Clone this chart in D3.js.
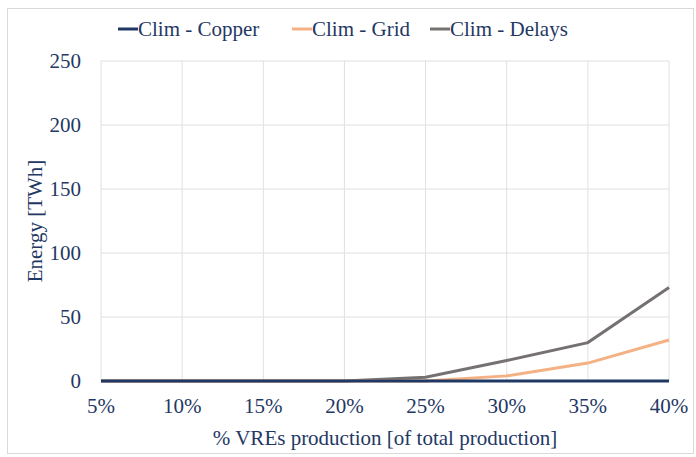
<!DOCTYPE html>
<html lang="en">
<head>
<meta charset="utf-8" />
<script src="https://cdn.jsdelivr.net/npm/d3@7"></script>
<style>
    body { margin: 0; background: #fff; }
</style>
</head>
<body>
<script>
    var categories = ["5%", "10%", "15%", "20%", "25%", "30%", "35%", "40%"];
    var copper = [0, 0, 0, 0, 0, 0, 0, 0];
    var grid = [0, 0, 0, 0, 0, 4, 14, 32];
    var delays = [0, 0, 0, 0, 3, 16, 30, 73];
    var yTicks = [0, 50, 100, 150, 200, 250];

    var series = [
        { name: "Clim - Copper", values: copper, color: "#1f3864" },
        { name: "Clim - Grid", values: grid, color: "#f4b183" },
        { name: "Clim - Delays", values: delays, color: "#767171" }
    ];

    var w = 696, h = 457;
    var pLeft = 101, pRight = 669, pTop = 61, pBottom = 381;
    var font = "'Liberation Serif', 'Times New Roman', 'DejaVu Serif', serif";

    var svg = d3.select("body").append("svg").attr("width", w).attr("height", h)
        .style("font-family", font);

    svg.append("rect").attr("x", 7.5).attr("y", 8.5).attr("width", 686).attr("height", 445)
        .attr("fill", "none").attr("stroke", "#d9d9d9");

    var x = d3.scalePoint().domain(categories).range([pLeft, pRight]);
    var y = d3.scaleLinear().domain([0, 250]).range([pBottom, pTop]);

    // grid
    svg.selectAll("line.h").data(yTicks).enter().append("line")
        .attr("x1", pLeft).attr("x2", pRight)
        .attr("y1", function (d) { return y(d); }).attr("y2", function (d) { return y(d); })
        .attr("stroke", "#e0e0e0");
    svg.selectAll("line.v").data(categories).enter().append("line")
        .attr("x1", function (d) { return x(d); }).attr("x2", function (d) { return x(d); })
        .attr("y1", pTop).attr("y2", pBottom)
        .attr("stroke", "#e0e0e0");

    function txt(sel) {
        return sel.style("font-family", font).attr("fill", "#1f3864").attr("font-size", "21px");
    }

    txt(svg.selectAll("text.yt").data(yTicks).enter().append("text"))
        .attr("x", 81).attr("y", function (d) { return y(d) + 7; })
        .attr("text-anchor", "end")
        .text(function (d) { return d; });
    txt(svg.selectAll("text.xt").data(categories).enter().append("text"))
        .attr("x", function (d) { return x(d); }).attr("y", 413)
        .attr("text-anchor", "middle")
        .text(function (d) { return d; });

    txt(svg.append("text")).attr("x", 385).attr("y", 445).attr("text-anchor", "middle")
        .text("% VREs production [of total production]");
    txt(svg.append("text")).attr("transform", "translate(42," + ((pTop + pBottom) / 2) + ") rotate(-90)")
        .attr("text-anchor", "middle").text("Energy [TWh]");

    var line = d3.line()
        .x(function (d, i) { return x(categories[i]); })
        .y(function (d) { return y(d); });

    svg.selectAll("path.s").data(series.slice().reverse()).enter().append("path")
        .attr("d", function (d) { return line(d.values); })
        .attr("fill", "none").attr("stroke", function (d) { return d.color; })
        .attr("stroke-width", 3);

    // legend
    var lx = [118, 292, 430];
    series.forEach(function (s, i) {
        svg.append("line").attr("x1", lx[i]).attr("x2", lx[i] + 20)
            .attr("y1", 29).attr("y2", 29).attr("stroke", s.color).attr("stroke-width", 3);
        txt(svg.append("text")).attr("x", lx[i] + 20).attr("y", 36).text(s.name);
    });
</script>
</body>
</html>
